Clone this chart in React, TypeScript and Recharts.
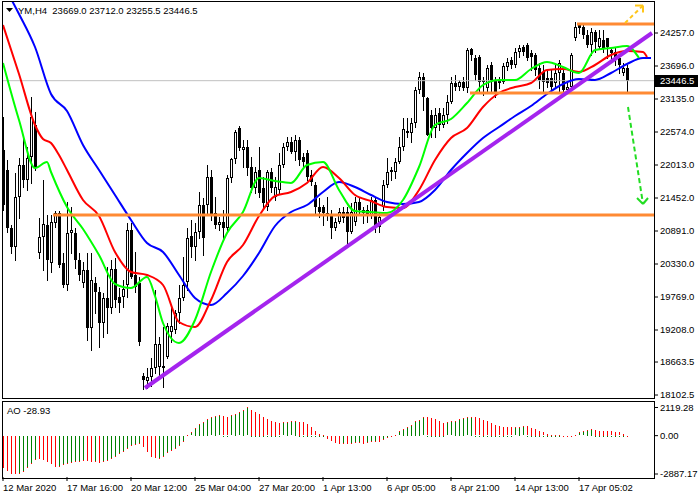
import React from 'react';
import { ComposedChart, Bar, Line, XAxis, YAxis, ReferenceLine } from 'recharts';

// YM, H4 candles (bar 0 = 12 Mar 2020)
const opens = [
  22268, 21928, 20942, 20619, 21469, 22013, 21758, 22149, 22693, 20517,
  20789, 20993, 20347, 21027, 21197, 20347, 19973, 20857, 20857, 20398,
  20007, 20228, 19242, 20007, 19854, 19327, 19752, 19582, 20245, 19769,
  19769, 19973, 20908, 20143, 20007, 18426, 18341, 18409, 18562, 18579,
  18596, 18749, 19174, 19208, 19497, 19752, 20024, 20806, 20619, 20874,
  21333, 21333, 21809, 21197, 20993, 21044, 20942, 21792, 22115, 22642,
  22268, 22319, 21979, 21622, 21928, 21622, 21299, 21894, 21469, 21588,
  22013, 22319, 22404, 22234, 22438, 22149, 22217, 21843, 21673, 21299,
  21299, 21197, 21163, 20942, 21044, 21214, 21214, 20874, 21044, 21384,
  21197, 21248, 21163, 21418, 20959, 21299, 21673, 21894, 21894, 22064,
  22319, 22591, 22557, 22727, 23288, 23509, 23152, 22863, 22642, 22897,
  22693, 22863, 23084, 23407, 23339, 23424, 23322, 23985, 23832, 23849,
  23424, 23322, 23713, 23458, 23458, 23424, 23679, 23798, 23713, 23934,
  24019, 24053, 23917, 23883, 23662, 23594, 23492, 23492, 23407, 23577,
  23577, 23288, 23339, 24172, 24393, 24359, 24223, 24053, 24274, 24019,
  24138, 24172, 23968, 23934, 23832, 23577, 23669,
];
const highs = [
  22829, 22098, 20993, 21877, 22132, 22523, 22319, 23169, 22914, 21112,
  21758, 21163, 21163, 21231, 21231, 20517, 21384, 21299, 20942, 20517,
  20364, 20517, 20517, 20109, 19939, 19837, 20279, 20398, 20432, 19922,
  20058, 21027, 21027, 20534, 20109, 18477, 18562, 18732, 19888, 19089,
  19259, 19327, 19582, 19548, 19973, 20449, 20942, 21078, 21027, 21554,
  21452, 22013, 21928, 21469, 21129, 21248, 21843, 22132, 22608, 22676,
  22438, 22438, 22149, 21979, 22319, 21809, 21928, 21962, 21809, 22217,
  22387, 22489, 22489, 22523, 22489, 22217, 22268, 21928, 21724, 21452,
  21333, 21469, 21248, 21112, 21282, 21299, 21299, 21367, 21469, 21469,
  21299, 21333, 21469, 21469, 21197, 21758, 22132, 21979, 22132, 22489,
  22812, 22812, 22812, 23339, 23594, 23577, 23169, 22948, 22982, 22982,
  22982, 23203, 23509, 23543, 23458, 23509, 24002, 24002, 23883, 23883,
  23509, 23713, 23764, 23509, 23509, 23747, 23832, 23849, 24002, 24053,
  24053, 24087, 23968, 23917, 23747, 23713, 23628, 23628, 23747, 23798,
  23628, 23424, 23917, 24444, 24427, 24393, 24308, 24342, 24308, 24308,
  24308, 24172, 24019, 24002, 23883, 23747, 23712,
];
const lows = [
  21248, 20874, 20517, 20398, 21112, 21639, 21588, 21707, 21928, 20432,
  20228, 20058, 20194, 20959, 20279, 19939, 19888, 20517, 20262, 20058,
  19939, 19038, 18868, 19497, 18919, 19089, 19157, 19497, 19599, 19514,
  19599, 19769, 20092, 19854, 18953, 18205, 18222, 18256, 18477, 18409,
  18239, 18732, 19004, 19157, 19327, 19718, 19888, 20449, 20398, 20772,
  20483, 21197, 21078, 20942, 20908, 20772, 20908, 21724, 22047, 22268,
  21979, 21843, 21554, 21537, 21469, 21299, 21248, 21554, 21418, 21537,
  21979, 22268, 22217, 22098, 22013, 21979, 21758, 21673, 21163, 21129,
  20993, 21078, 20772, 20908, 21027, 21044, 20619, 20857, 20993, 21163,
  21027, 21044, 21112, 20874, 20874, 21248, 21639, 21758, 21792, 22047,
  22268, 22489, 22404, 22659, 23237, 22948, 22523, 22489, 22489, 22608,
  22659, 22727, 23067, 23288, 23288, 23288, 23254, 23798, 23458, 23254,
  23203, 23254, 23237, 23169, 23322, 23407, 23628, 23662, 23679, 23849,
  23883, 23798, 23628, 23543, 23322, 23254, 23339, 23288, 23322, 23254,
  23237, 23254, 23288, 24138, 24257, 24172, 24019, 23883, 23934, 24002,
  23934, 23832, 23798, 23713, 23577, 23543, 23255.5,
];
const closes = [
  21333, 20942, 20619, 21469, 22013, 21758, 22132, 22829, 21962, 20789,
  21010, 20398, 21044, 21197, 20313, 19973, 20857, 20908, 20398, 20143,
  20228, 19242, 20058, 19854, 19327, 19752, 19582, 20245, 19718, 19667,
  19905, 20908, 20109, 19939, 19004, 18358, 18409, 18562, 18970, 18970,
  18562, 19276, 19276, 19497, 19752, 19973, 20772, 20619, 20874, 21333,
  20772, 21809, 21163, 20993, 21044, 20942, 21792, 22115, 22574, 22302,
  22319, 21962, 21622, 21894, 21537, 21367, 21894, 21622, 21639, 22013,
  22319, 22404, 22234, 22438, 22098, 22064, 21809, 21724, 21299, 21214,
  21197, 21146, 20942, 21044, 21214, 21112, 20874, 21214, 21384, 21248,
  21248, 21163, 21418, 20942, 21129, 21673, 21894, 21928, 22064, 22319,
  22625, 22557, 22727, 23288, 23509, 23169, 22523, 22642, 22863, 22693,
  22863, 23084, 23407, 23339, 23424, 23322, 23968, 23883, 23543, 23424,
  23458, 23662, 23458, 23254, 23407, 23696, 23764, 23713, 23934, 24002,
  23934, 23832, 23849, 23628, 23458, 23424, 23407, 23339, 23577, 23747,
  23288, 23339, 23883, 24359, 24342, 24223, 24053, 24274, 24104, 24172,
  24002, 24019, 23917, 23798, 23713, 23662, 23446.5,
];

// Alligator lines, read at sampled bars (they run past the last candle)
const jawBars = [0, 4, 8, 12, 16, 20, 24, 28, 32, 36, 40, 44, 48, 52, 56, 60, 64, 68, 72, 76, 80, 84, 88, 92, 96, 100, 104, 108, 112, 116, 120, 124, 128, 132, 136, 140, 144, 148, 152, 156, 160, 162];
const jaw = [25090, 24580, 24019, 23220, 22931, 22353, 21928, 21503, 21078, 20687, 20534, 20143, 19752, 19633, 19837, 20126, 20517, 20976, 21214, 21333, 21554, 21724, 21639, 21503, 21384, 21350, 21384, 21588, 21928, 22217, 22472, 22659, 22846, 23016, 23220, 23390, 23475, 23458, 23577, 23730, 23832, 23832];
const teethBars = [0, 4, 8, 10, 12, 14, 16, 20, 24, 28, 32, 36, 40, 44, 48, 52, 56, 60, 64, 68, 72, 76, 80, 84, 88, 92, 96, 100, 104, 108, 112, 116, 120, 124, 128, 132, 136, 140, 144, 148, 152, 156, 160, 161];
const teeth = [24393, 23560, 22693, 22455, 22387, 22183, 21928, 21418, 21146, 20534, 20194, 20143, 19973, 19344, 19259, 19718, 20364, 20653, 21146, 21486, 21554, 21707, 21979, 21792, 21503, 21401, 21299, 21282, 21588, 22098, 22472, 22642, 22999, 23237, 23339, 23407, 23628, 23645, 23594, 23713, 23883, 23951, 23934, 23849];
const lipsBars = [0, 4, 8, 11, 12, 16, 20, 24, 28, 32, 36, 38, 40, 44, 48, 52, 56, 60, 64, 68, 72, 76, 80, 84, 88, 92, 96, 100, 104, 108, 112, 116, 120, 124, 128, 132, 136, 140, 144, 148, 152, 156, 159];
const lips = [23747, 22778, 21962, 22064, 21894, 21299, 20925, 20483, 19990, 19922, 20109, 19786, 19327, 18987, 19378, 20194, 20857, 21214, 21792, 21741, 21707, 22013, 22064, 21588, 21231, 21214, 21197, 21418, 21979, 22693, 22795, 23067, 23373, 23458, 23458, 23645, 23764, 23679, 23577, 23968, 24002, 24036, 23832];

// Awesome Oscillator, one value per candle
const ao = [
  -2375, -2625, -2825, -2887.17, -2825, -2625, -2375, -2075, -1750, -1760,
  -1830, -1925, -2075, -2325, -2250, -2125, -2075, -2000, -1925, -1875,
  -1825, -1875, -1925, -1900, -2000, -1925, -1825, -1675, -1500, -1325,
  -1125, -925, -675, -625, -575, -825, -1175, -1575, -1675, -1650,
  -1500, -1250, -1075, -925, -675, -375, 20, 250, 575, 875,
  1050, 1250, 1375, 1500, 1525, 1450, 1375, 1525, 1625, 1750,
  1925, 2119.28, 1925, 1775, 1625, 1425, 1225, 1125, 1050, 925,
  1000, 1050, 1075, 1125, 1050, 1000, 875, 625, 325, 125,
  50, -250, -375, -500, -575, -560, -625, -575, -500, -490,
  -575, -500, -425, -375, -425, -250, -125, -50, 75, 325,
  500, 675, 825, 1125, 1175, 1375, 1370, 1325, 1250, 1125,
  950, 1000, 1075, 1125, 1250, 1325, 1375, 1425, 1375, 1300,
  1200, 1075, 950, 800, 700, 675, 625, 620, 630, 675,
  700, 690, 575, 500, 375, 250, 125, 60, 40, 25,
  10, -20, -10, 75, 250, 325, 425, 500, 425, 375,
  370, 365, 325, 300, 250, 125, -28.93,
];

// drawn objects: support / resistance levels, trend line, arrows
const levelPrices = [21163, 23237, 24410];
const levelFromBar = [12.5, 116.75, 143.5];
const trendLine = [[35.5, 18222], [162.25, 24257]];
const upArrow = [[155.5, 24427], [160, 24724]];
const upArrowHead = [[158, 24724], [160, 24724], [160, 24605]];
const downArrow = [[156.25, 22999], [160, 21350]];
const downArrowHead = [[158.5, 21452], [160, 21350], [161.25, 21452]];

const priceTicks = [24257, 23696, 23135, 22574, 22013, 21452, 20891, 20330, 19769, 19208, 18663.5, 18102.5];
const aoTicks = [2119.28, 0, -2887.17];
const timeTickBars = [0, 16, 32, 48, 64, 80, 96, 112, 128, 144];
const timeLabels = ['12 Mar 2020', '17 Mar 16:00', '20 Mar 12:00', '25 Mar 04:00', '27 Mar 20:00', '1 Apr 13:00', '6 Apr 05:00', '8 Apr 21:00', '14 Apr 13:00', '17 Apr 05:02'];

const FONT = '"Liberation Sans", Arial, sans-serif';
const FS = 9.5;
const X_DOMAIN: [number, number] = [-0.25, 162.75];
const AO_UP = '#008000';
const AO_DOWN = '#ff0000';

const priceRows: any[] = [];
for (let i = 0; i <= 162; i++) {
  const row: any = { i };
  if (i < closes.length) {
    row.o = opens[i];
    row.h = highs[i];
    row.l = lows[i];
    row.c = closes[i];
  }
  priceRows.push(row);
}
jawBars.forEach((b, k) => { priceRows[b].jaw = jaw[k]; });
teethBars.forEach((b, k) => { priceRows[b].teeth = teeth[k]; });
lipsBars.forEach((b, k) => { priceRows[b].lips = lips[k]; });

// green when AO rises against the previous bar, red otherwise
const aoRows = ao.map((v, i) => {
  const rising = i > 0 && v > ao[i - 1];
  return { i, aoUp: rising ? v : null, aoDown: rising ? null : v };
});

const Candle = (props: any) => {
  const { x, y, width, height, payload } = props;
  if (!payload || payload.h == null) return null;
  const top = Math.min(y, y + height);
  const span = Math.abs(height);
  const range = payload.h - payload.l || 1;
  const py = (v: number) => top + ((payload.h - v) / range) * span;
  const cx = Math.round(x + width / 2);
  const yo = py(payload.o);
  const yc = py(payload.c);
  const bTop = Math.round(Math.min(yo, yc));
  const up = payload.c >= payload.o;
  const wick = <line x1={cx + 0.5} x2={cx + 0.5} y1={Math.round(top)} y2={Math.round(top + span) + 1} stroke="#000" strokeWidth={1} />;
  if (up) {
    const bBot = Math.max(Math.round(Math.max(yo, yc)), bTop + 2);
    return (
      <g>
        {wick}
        <rect x={cx - 0.5} y={bTop + 0.5} width={2} height={bBot - bTop - 1} fill="#fff" stroke="#000" strokeWidth={1} />
      </g>
    );
  }
  const bBot = Math.max(Math.round(Math.max(yo, yc)), bTop + 1);
  return (
    <g>
      {wick}
      <rect x={cx - 1} y={bTop} width={3} height={bBot - bTop} fill="#000" />
    </g>
  );
};

const aoShape = (color: string) => (props: any) => {
  const { x, y, width, height } = props;
  if (x == null || y == null || !Number.isFinite(height)) return <g />;
  const top = Math.min(y, y + height);
  const h = Math.max(1, Math.round(Math.abs(height)));
  return <rect x={Math.round(x + width / 2)} y={Math.round(top)} width={1} height={h} fill={color} stroke="none" />;
};

const BidTag = (props: any) => {
  const vb = props.viewBox;
  if (!vb) return null;
  const x = vb.x + vb.width + 1;
  const y = Math.round(vb.y);
  return (
    <g>
      <rect x={x} y={y - 6} width={43} height={12} fill="#000" />
      <text x={x + 5} y={y} dy="0.355em" fill="#fff" fontSize={FS} fontFamily={FONT}>
        {closes[closes.length - 1].toFixed(1)}
      </text>
    </g>
  );
};

const TimeTick = (props: any) => {
  const { x, y, payload } = props;
  const k = timeTickBars.indexOf(payload.value);
  return (
    <text x={x} y={y} dy="0.71em" textAnchor="start" fill="#000" fontSize={FS} fontFamily={FONT}>
      {timeLabels[k]}
    </text>
  );
};

const seg = (pts: number[][]) => pts.map(([x, y]) => ({ x, y }));

export default function App() {
  return (
    <div style={{ position: 'absolute', left: 0, top: 0, width: 700, height: 500, background: '#fff', fontFamily: FONT }}>
      <div style={{ position: 'absolute', left: 0, top: 0 }}>
        <ComposedChart width={700} height={400} data={priceRows} margin={{ top: 2, right: 0, bottom: 2, left: 2 }}>
          <XAxis dataKey="i" type="number" domain={X_DOMAIN} hide allowDataOverflow />
          <YAxis
            orientation="right"
            width={46}
            domain={[18052, 24784]}
            allowDataOverflow
            ticks={priceTicks}
            interval={0}
            axisLine={false}
            tickSize={4}
            tickLine={{ stroke: '#000' }}
            tick={{ fill: '#000', fontSize: FS, fontFamily: FONT }}
            tickFormatter={(v: number) => v.toFixed(1)}
          />
          <ReferenceLine y={closes[closes.length - 1]} stroke="#c0c0c0" strokeWidth={1} label={<BidTag />} />
          <Bar
            dataKey={(d: any) => (d.h == null ? null : [d.l, d.h])}
            barSize={3}
            shape={<Candle />}
            isAnimationActive={false}
          />
          <Line dataKey="jaw" type="monotone" stroke="#0000ff" strokeWidth={2} dot={false} connectNulls isAnimationActive={false} />
          <Line dataKey="teeth" type="monotone" stroke="#ff0000" strokeWidth={2} dot={false} connectNulls isAnimationActive={false} />
          <Line dataKey="lips" type="monotone" stroke="#00ff00" strokeWidth={2} dot={false} connectNulls isAnimationActive={false} />
          {levelPrices.map((p, k) => (
            <ReferenceLine key={'lv' + k} segment={[{ x: levelFromBar[k], y: p }, { x: X_DOMAIN[1], y: p }]} stroke="#ff8a33" strokeWidth={3} />
          ))}
          <ReferenceLine segment={seg(trendLine)} stroke="#a424ee" strokeWidth={4} />
          <ReferenceLine segment={seg(upArrow)} stroke="#ffc61a" strokeWidth={2} strokeDasharray="4 3" />
          <ReferenceLine segment={seg(upArrowHead.slice(0, 2))} stroke="#ffc61a" strokeWidth={2} />
          <ReferenceLine segment={seg(upArrowHead.slice(1))} stroke="#ffc61a" strokeWidth={2} />
          <ReferenceLine segment={seg(downArrow)} stroke="#22dd22" strokeWidth={2} strokeDasharray="5 3" />
          <ReferenceLine segment={seg(downArrowHead.slice(0, 2))} stroke="#22dd22" strokeWidth={2} />
          <ReferenceLine segment={seg(downArrowHead.slice(1))} stroke="#22dd22" strokeWidth={2} />
        </ComposedChart>
      </div>
      <div style={{ position: 'absolute', left: 0, top: 400 }}>
        <ComposedChart width={700} height={100} data={aoRows} margin={{ top: 2, right: 0, bottom: 2, left: 2 }}>
          <XAxis
            dataKey="i"
            type="number"
            domain={X_DOMAIN}
            allowDataOverflow
            ticks={timeTickBars}
            interval={0}
            axisLine={false}
            tickSize={4}
            tickMargin={3}
            height={21}
            tickLine={{ stroke: '#000' }}
            tick={<TimeTick />}
          />
          <YAxis
            orientation="right"
            width={46}
            domain={[-3113, 2533]}
            allowDataOverflow
            ticks={aoTicks}
            interval={0}
            axisLine={false}
            tickSize={4}
            tickLine={{ stroke: '#000' }}
            tick={{ fill: '#000', fontSize: FS, fontFamily: FONT }}
            tickFormatter={(v: number) => v.toFixed(2)}
          />
          <Bar dataKey="aoUp" stackId="ao" barSize={1} fill={AO_UP} shape={aoShape(AO_UP)} isAnimationActive={false} />
          <Bar dataKey="aoDown" stackId="ao" barSize={1} fill={AO_DOWN} shape={aoShape(AO_DOWN)} isAnimationActive={false} />
        </ComposedChart>
      </div>
      {/* window frames */}
      <div style={{ position: 'absolute', left: 2, top: 1, width: 653, height: 398, boxSizing: 'border-box', border: '1px solid #000', pointerEvents: 'none' }} />
      <div style={{ position: 'absolute', left: 2, top: 401, width: 653, height: 78, boxSizing: 'border-box', border: '1px solid #000', pointerEvents: 'none' }} />
      <svg style={{ position: 'absolute', left: 6, top: 8 }} width={8} height={6}>
        <polygon points="0,0 7,0 3.5,4" fill="#000" />
      </svg>
      <div style={{ position: 'absolute', left: 18, top: 5, fontSize: FS, lineHeight: '12px', whiteSpace: 'pre', color: '#000' }}>
        {'YM,H4  ' + [opens[156], highs[156], lows[156], closes[156]].map((v) => v.toFixed(1)).join(' ')}
      </div>
      <div style={{ position: 'absolute', left: 7, top: 405, fontSize: FS, lineHeight: '12px', whiteSpace: 'pre', color: '#000' }}>
        {'AO ' + ao[ao.length - 1].toFixed(2)}
      </div>
    </div>
  );
}
